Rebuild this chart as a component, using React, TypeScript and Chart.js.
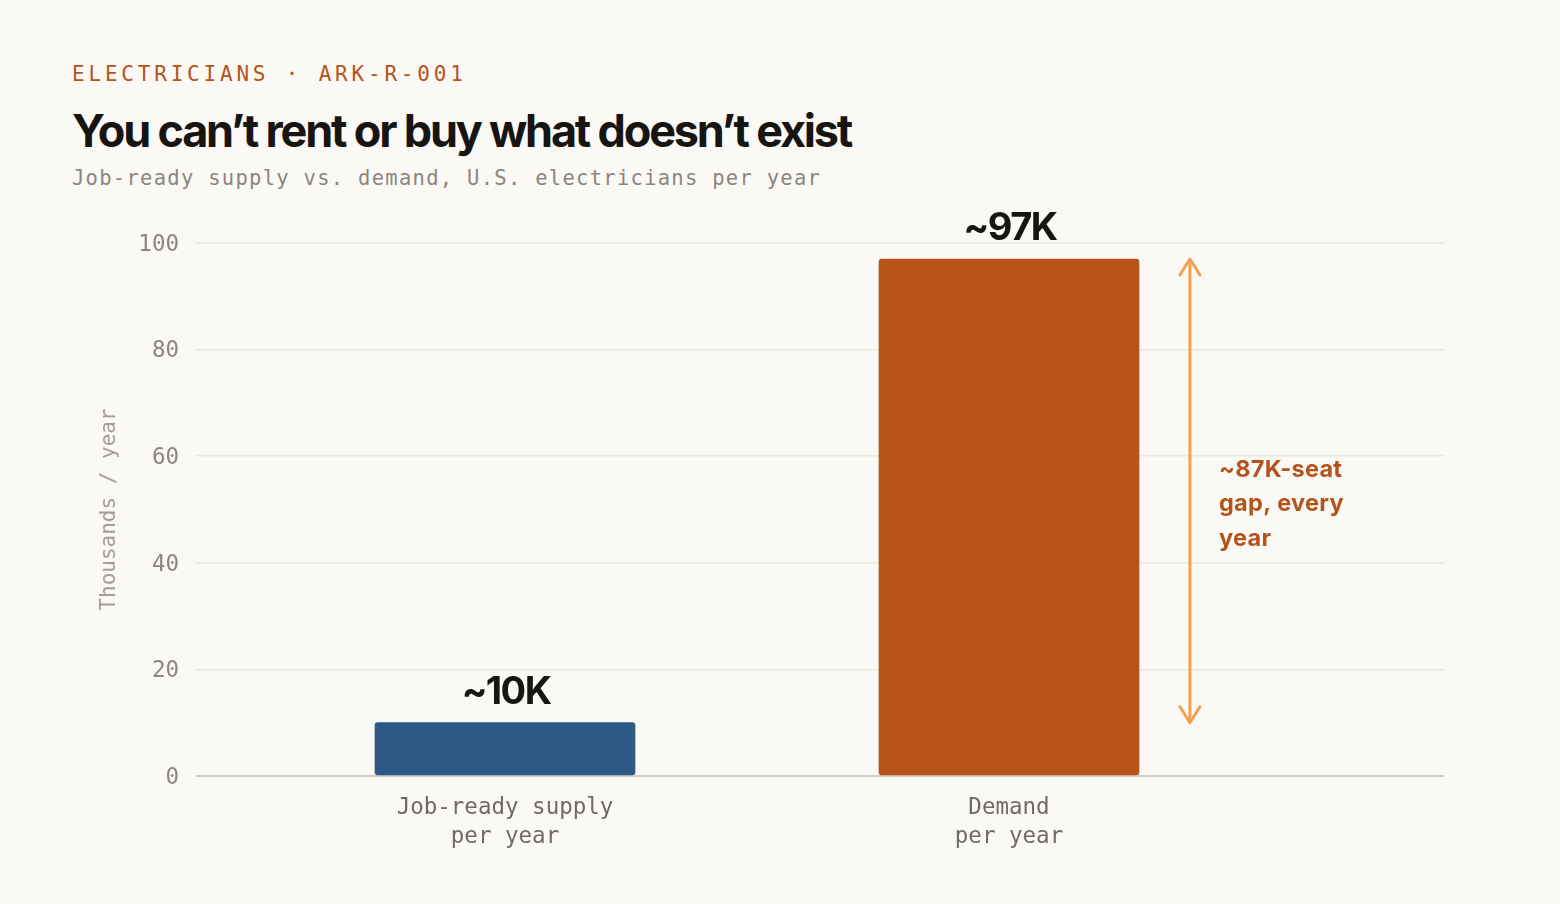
import React, { useEffect, useRef } from "react";
import { Chart, registerables } from "chart.js";

Chart.register(...registerables);

const categories: string[][] = [["Job-ready supply", "per year"], ["Demand", "per year"]];
const values: number[] = [10, 97];
const valueLabels: string[] = ["~10K", "~97K"];
const barColors: string[] = ["#2d5a85", "#b85417"];
const yTicks: number[] = [0, 20, 40, 60, 80, 100];
const gapLines: string[] = ["~87K-seat", "gap, every", "year"];

const BG = "#faf9f6";
const MONO = '"DejaVu Sans Mono", monospace';
const SANS = 'Inter, "Noto Sans", sans-serif';

export default function App() {
  const ref = useRef<HTMLCanvasElement | null>(null);

  useEffect(() => {
    const canvas = ref.current;
    if (!canvas) return;

    const overlay = {
      id: "overlay",
      beforeDraw(chart: any) {
        chart.ctx.letterSpacing = "0px";
      },
      afterDatasetsDraw(chart: any) {
        const ctx = chart.ctx;
        const meta = chart.getDatasetMeta(0);
        const xs = chart.scales.x;
        const ys = chart.scales.y;
        ctx.save();
        // value labels
        ctx.font = `700 38px ${SANS}`;
        ctx.letterSpacing = "-1.6px";
        ctx.fillStyle = "#181612";
        ctx.textAlign = "center";
        ctx.textBaseline = "alphabetic";
        meta.data.forEach((el: any, i: number) => {
          ctx.fillText(valueLabels[i], el.x + 1, el.y - 19);
        });
        // gap arrow
        const ax = xs.getPixelForValue(1.359);
        const yTop = ys.getPixelForValue(values[1]);
        const yBot = ys.getPixelForValue(values[0]);
        ctx.strokeStyle = "#f2a14f";
        ctx.lineWidth = 3;
        ctx.lineCap = "round";
        ctx.lineJoin = "round";
        ctx.beginPath();
        ctx.moveTo(ax, yTop + 2);
        ctx.lineTo(ax, yBot - 2);
        ctx.stroke();
        ctx.beginPath();
        ctx.moveTo(ax - 10, yTop + 16);
        ctx.lineTo(ax, yTop);
        ctx.lineTo(ax + 10, yTop + 16);
        ctx.moveTo(ax - 10, yBot - 16);
        ctx.lineTo(ax, yBot);
        ctx.lineTo(ax + 10, yBot - 16);
        ctx.stroke();
        // gap text
        ctx.font = `700 23.5px ${SANS}`;
        ctx.letterSpacing = "0.3px";
        ctx.fillStyle = "#b5541a";
        ctx.textAlign = "left";
        const tx = ax + 29;
        const ty = ys.getPixelForValue(56.1);
        gapLines.forEach((l, i) => ctx.fillText(l, tx, ty + i * 34.5));
        ctx.restore();
      },
    };

    const chart = new Chart(canvas, {
      type: "bar",
      data: {
        datasets: [
          {
            data: values.map((v, i) => ({ x: i, y: v })),
            backgroundColor: barColors,
            borderRadius: 3,
            borderSkipped: false,
            barThickness: 260,
          },
        ],
      },
      options: {
        responsive: false,
        animation: false,
        devicePixelRatio: 1,
        layout: { padding: { top: 43, right: 116, left: 0, bottom: 0 } },
        plugins: { legend: { display: false }, tooltip: { enabled: false } },
        scales: {
          x: {
            type: "linear",
            min: -0.6131,
            max: 1.8631,
            offset: false,
            grid: { display: false, drawTicks: false },
            border: { display: false },
            afterBuildTicks: (s: any) => {
              s.ticks = categories.map((_, i) => ({ value: i }));
            },
            afterFit: (s: any) => {
              s.height = 128;
            },
            ticks: {
              autoSkip: false,
              maxRotation: 0,
              padding: 18,
              color: "#6f6a63",
              font: { family: MONO, size: 22.5, lineHeight: 1.29 },
              callback: (v: any) => categories[Math.round(Number(v))] ?? "",
            },
          },
          y: {
            min: 0,
            max: 100,
            afterBuildTicks: (s: any) => {
              s.ticks = yTicks.map((v) => ({ value: v }));
            },
            afterFit: (s: any) => {
              s.width = 196;
            },
            grid: {
              drawTicks: false,
              color: (c: any) => (c.tick && c.tick.value === 0 ? "#d2cec7" : "#ebe8e2"),
              lineWidth: (c: any) => (c.tick && c.tick.value === 0 ? 2 : 1.5),
            },
            border: { display: false },
            ticks: {
              padding: 17,
              labelOffset: 2,
              color: "#8b867d",
              font: { family: MONO, size: 22.5 },
            },
            title: {
              display: true,
              text: "Thousands / year",
              color: "#a39d93",
              font: { family: MONO, size: 21, lineHeight: 1.2 },
              padding: { top: 97.4, bottom: 0 },
            },
          },
        },
      },
      plugins: [overlay],
    });
    return () => chart.destroy();
  }, []);

  return (
    <div style={{ position: "absolute", left: 0, top: 0, width: 1560, height: 904, background: BG, overflow: "hidden" }}>
      <div
        style={{
          position: "absolute",
          left: 72,
          top: 64,
          fontFamily: MONO,
          fontSize: 21,
          lineHeight: "20px",
          letterSpacing: "3.8px",
          color: "#b5541a",
          whiteSpace: "nowrap",
        }}
      >
        ELECTRICIANS · ARK-R-001
      </div>
      <div
        style={{
          position: "absolute",
          left: 72,
          top: 109,
          fontFamily: SANS,
          fontWeight: 700,
          fontSize: 45,
          lineHeight: "44px",
          letterSpacing: "-2.2px",
          color: "#171512",
          whiteSpace: "nowrap",
        }}
      >
        You can’t rent or buy what doesn’t exist
      </div>
      <div
        style={{
          position: "absolute",
          left: 72,
          top: 168,
          fontFamily: MONO,
          fontSize: 20.5,
          lineHeight: "20px",
          letterSpacing: "1.28px",
          color: "#8b867d",
          whiteSpace: "nowrap",
        }}
      >
        Job-ready supply vs. demand, U.S. electricians per year
      </div>
      <canvas
        ref={ref}
        width={1560}
        height={704}
        style={{ position: "absolute", left: 0, top: 200, width: 1560, height: 704 }}
      />
    </div>
  );
}
